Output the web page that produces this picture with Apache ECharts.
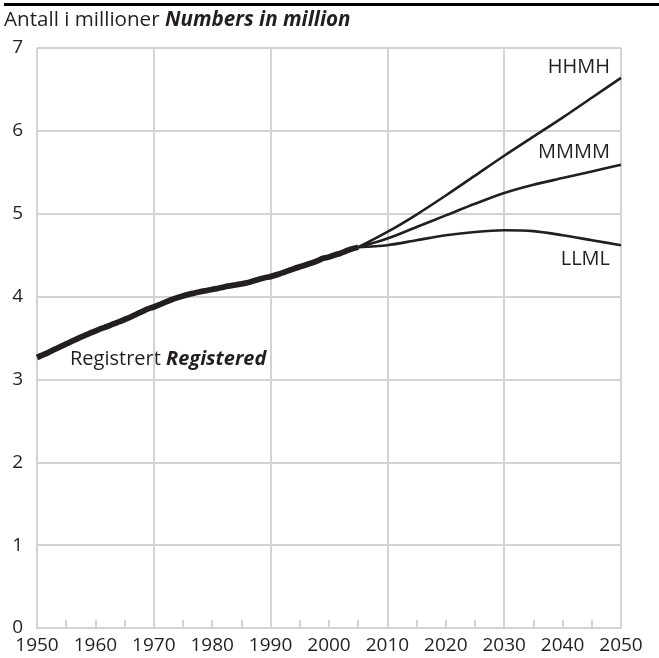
<!DOCTYPE html>
<html><head><meta charset="utf-8">
<script src="https://cdn.jsdelivr.net/npm/echarts@6/dist/echarts.min.js"></script>
<style>html,body{margin:0;padding:0;background:#fff}#c{width:659px;height:658px}</style>
</head><body><div id="c"></div>
<script>
const regYears = [1950,1951,1952,1953,1954,1955,1956,1957,1958,1959,1960,1961,1962,1963,1964,1965,1966,1967,1968,1969,1970,1971,1972,1973,1974,1975,1976,1977,1978,1979,1980,1981,1982,1983,1984,1985,1986,1987,1988,1989,1990,1991,1992,1993,1994,1995,1996,1997,1998,1999,2000,2001,2002,2003,2004,2005];
const registered = [3.265,3.296,3.328,3.362,3.395,3.429,3.462,3.494,3.525,3.556,3.585,3.615,3.639,3.667,3.694,3.723,3.753,3.785,3.819,3.851,3.875,3.903,3.933,3.961,3.985,4.007,4.026,4.043,4.060,4.073,4.086,4.100,4.115,4.128,4.140,4.153,4.167,4.187,4.209,4.227,4.241,4.262,4.286,4.312,4.337,4.359,4.381,4.405,4.431,4.462,4.478,4.503,4.524,4.552,4.577,4.595];
const projYears = [2005,2010,2015,2020,2025,2030,2035,2040,2045,2050];
const hhmh = [4.595,4.78,4.99,5.22,5.46,5.70,5.93,6.16,6.40,6.64];
const mmmm = [4.595,4.70,4.84,4.98,5.12,5.25,5.35,5.43,5.51,5.59];
const llml = [4.595,4.62,4.68,4.74,4.78,4.80,4.79,4.74,4.68,4.62];
const xLabels = ['1950','1960','1970','1980','1990','2000','2010','2020','2030','2040','2050'];
const yLabels = ['0','1','2','3','4','5','6','7'];

const FONT = '"Open Sans", "Noto Sans", sans-serif';
const TXT = '#231f20';
const LINE = '#231f20';
const GRID = '#d3d3d5';
const pair = (xs, ys) => xs.map((x, i) => [x, ys[i]]);

const chart = echarts.init(document.getElementById('c'), null, {renderer: 'canvas'});
chart.setOption({
  animation: false,
  backgroundColor: '#fff',
  grid: {left: 37, right: 38, top: 48, bottom: 30},
  xAxis: [{
    type: 'value', min: 1950, max: 2050, interval: 5,
    axisLine: {show: true, lineStyle: {color: GRID, width: 2}},
    axisTick: {show: true, inside: true, length: 8, lineStyle: {color: GRID, width: 2}},
    axisLabel: {
      margin: 8, color: TXT, fontFamily: FONT, fontSize: 19,
      formatter: v => { const s = String(v); return xLabels.indexOf(s) >= 0 ? s : ''; }
    },
    splitLine: {show: false}
  }, {
    type: 'value', min: 1950, max: 2050, interval: 20, position: 'bottom',
    axisLine: {show: false}, axisTick: {show: false}, axisLabel: {show: false},
    splitLine: {show: true, lineStyle: {color: GRID, width: 2}}
  }],
  yAxis: {
    type: 'value', min: 0, max: 7, interval: 1,
    axisLine: {show: false}, axisTick: {show: false},
    axisLabel: {
      margin: 14, align: 'right', color: TXT, fontFamily: FONT, fontSize: 19,
      formatter: v => yLabels[v] !== undefined ? yLabels[v] : ''
    },
    splitLine: {show: true, lineStyle: {color: GRID, width: 2}}
  },
  series: [
    {type: 'line', xAxisIndex: 0, data: pair(projYears, llml), smooth: 0.3, symbol: 'none', lineStyle: {color: LINE, width: 2.6}},
    {type: 'line', xAxisIndex: 0, data: pair(projYears, mmmm), smooth: 0.3, symbol: 'none', lineStyle: {color: LINE, width: 2.6}},
    {type: 'line', xAxisIndex: 0, data: pair(projYears, hhmh), smooth: 0.3, symbol: 'none', lineStyle: {color: LINE, width: 2.6}},
    {type: 'line', xAxisIndex: 0, data: pair(regYears, registered), smooth: 0.3, symbol: 'none', lineStyle: {color: LINE, width: 5.8}}
  ],
  graphic: [
    {type: 'rect', left: 4, top: 3, shape: {width: 655, height: 3}, style: {fill: '#000'}},
    {type: 'text', left: 4, top: 10, style: {
      text: '{r|Antall i millioner }{b|Numbers in million}',
      rich: {
        r: {fontFamily: FONT, fontSize: 20.6, fill: TXT},
        b: {fontFamily: FONT, fontSize: 20.6, fontWeight: 'bold', fontStyle: 'italic', fill: TXT}
      }}},
    {type: 'text', right: 49, top: 57, style: {text: 'HHMH', fontFamily: FONT, fontSize: 20, fill: TXT}},
    {type: 'text', right: 49, top: 142, style: {text: 'MMMM', fontFamily: FONT, fontSize: 20, fill: TXT}},
    {type: 'text', right: 49, top: 249, style: {text: 'LLML', fontFamily: FONT, fontSize: 20, fill: TXT}},
    {type: 'text', left: 70, top: 349, style: {
      text: '{r|Registrert }{b|Registered}',
      rich: {
        r: {fontFamily: FONT, fontSize: 20, fill: TXT},
        b: {fontFamily: FONT, fontSize: 20, fontWeight: 'bold', fontStyle: 'italic', fill: TXT}
      }}}
  ]
});
</script></body></html>
